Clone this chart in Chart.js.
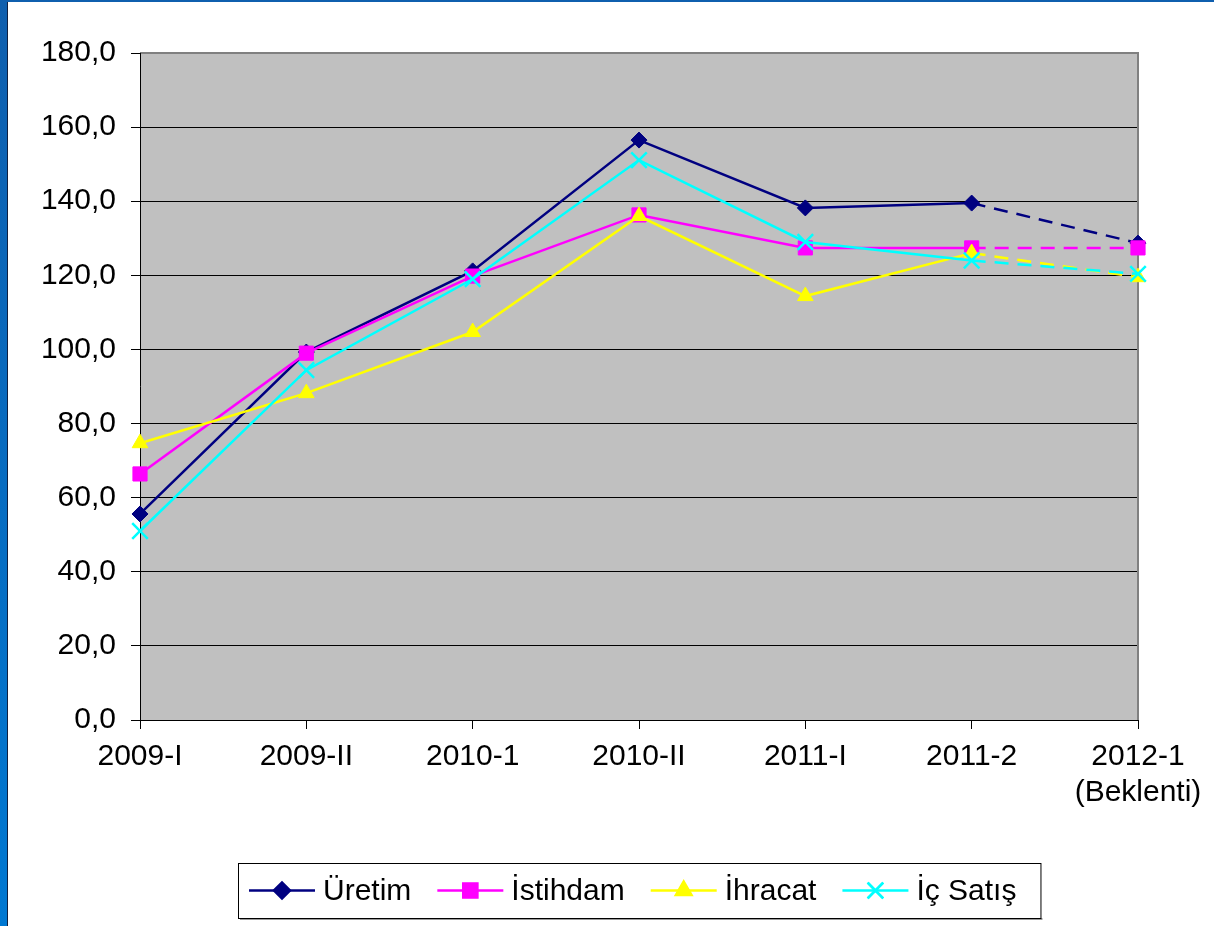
<!DOCTYPE html>
<html>
<head>
<meta charset="utf-8">
<script src="https://cdn.jsdelivr.net/npm/chart.js@4.4.1/dist/chart.umd.min.js"></script>
<style>
  html, body { margin: 0; padding: 0; background: #fff; }
  #wrap { width: 1214px; height: 926px; }
</style>
</head>
<body>
<div id="wrap"><canvas id="chart" width="1214" height="926"></canvas></div>
<script>
// donnees
var categories = ['2009-I', '2009-II', '2010-1', '2010-II', '2011-I', '2011-2', ['2012-1', '(Beklenti)']];
var uretim    = [55.6, 99.3, 121.2, 156.5, 138.2, 139.5, 128.7];
var istihdam  = [66.4, 99.0, 119.8, 136.3, 127.4, 127.4, 127.4];
var ihracat   = [74.7, 88.2, 104.7, 136.0, 114.4, 126.0, 119.5];
var icSatis   = [51.0, 94.4, 119.0, 151.1, 129.0, 124.0, 120.4];
var seriesNames = ['Üretim', 'İstihdam', 'İhracat', 'İç Satış'];
var yTicks = [0, 20, 40, 60, 80, 100, 120, 140, 160, 180];

var FONT = '"Liberation Sans", Arial, sans-serif';

// dernier segment (prevision) en pointille
function dashLast(ctx) {
    return ctx.p1DataIndex === categories.length - 1 ? [14, 9] : undefined;
}

function mkSet(label, data, color, style, radius, order, bw) {
    return {
        label: label,
        data: data,
        borderColor: color,
        backgroundColor: color,
        borderWidth: 2.5,
        pointStyle: style,
        pointRadius: radius,
        pointHoverRadius: radius,
        pointBorderWidth: bw,
        pointBackgroundColor: color,
        pointBorderColor: color,
        tension: 0,
        order: order,
        segment: { borderDash: dashLast }
    };
}

var datasets = [
    mkSet(seriesNames[0], uretim, '#000080', 'rectRot', 8, 3, 1),
    mkSet(seriesNames[1], istihdam, '#FF00FF', 'rect', 10, 2, 1),
    mkSet(seriesNames[2], ihracat, '#FFFF00', 'triangle', 9, 1, 1),
    mkSet(seriesNames[3], icSatis, '#00FFFF', 'crossRot', 11, 0, 2.5)
];

// fond, bord bleu, zone grise
var backdrop = {
    id: 'backdrop',
    beforeDraw: function (chart) {
        var c = chart.ctx, a = chart.chartArea;
        c.save();
        c.fillStyle = '#fff';
        c.fillRect(0, 0, chart.width, chart.height);
        var g = c.createLinearGradient(0, 0, 0, chart.height);
        g.addColorStop(0, '#0F5FAE');
        g.addColorStop(1, '#0078D2');
        c.fillStyle = g;
        c.fillRect(0, 0, 7, chart.height);
        c.fillRect(0, 0, chart.width, 2);
        c.fillStyle = '#102040';
        c.fillRect(7, 2, 1, chart.height);
        c.fillStyle = '#C0C0C0';
        c.fillRect(a.left, a.top, a.right - a.left, a.bottom - a.top);
        c.restore();
    },
    beforeDatasetsDraw: function (chart) {
        var c = chart.ctx, a = chart.chartArea;
        c.save();
        c.strokeStyle = '#808080';
        c.lineWidth = 2;
        c.beginPath();
        c.moveTo(a.left, a.top);
        c.lineTo(a.right, a.top);
        c.lineTo(a.right, a.bottom);
        c.stroke();
        c.strokeStyle = '#000';
        c.lineWidth = 1;
        c.beginPath();
        c.moveTo(a.left + 0.5, a.top);
        c.lineTo(a.left + 0.5, a.bottom);
        c.moveTo(a.left, a.bottom + 0.5);
        c.lineTo(a.right, a.bottom + 0.5);
        c.stroke();
        c.restore();
    }
};

// legende facon Excel: trait + marqueur + texte dans un cadre
var boxLegend = {
    id: 'boxLegend',
    afterDraw: function (chart) {
        var c = chart.ctx, a = chart.chartArea;
        var lineLen = 66, gapText = 8, gapItem = 26, padL = 11, padR = 24;
        c.save();
        c.font = '30px ' + FONT;
        var widths = datasets.map(function (d) { return c.measureText(d.label).width; });
        var total = padL + padR;
        widths.forEach(function (w, i) { total += lineLen + gapText + w + (i < widths.length - 1 ? gapItem : 0); });
        var cx = (a.left + a.right) / 2;
        var x0 = Math.round(cx - total / 2), y0 = 863, h = 55, cy = y0 + h / 2;
        c.fillStyle = '#9a9a9a';
        c.fillRect(x0 + 2, y0 + h, total, 2);
        c.fillStyle = '#fff';
        c.fillRect(x0, y0, total, h);
        c.strokeStyle = '#000';
        c.lineWidth = 1;
        c.strokeRect(x0 + 0.5, y0 + 0.5, total, h);
        var x = x0 + padL;
        datasets.forEach(function (d, i) {
            c.strokeStyle = d.borderColor;
            c.lineWidth = 2.5;
            c.beginPath();
            c.moveTo(x, cy);
            c.lineTo(x + lineLen, cy);
            c.stroke();
            Chart.helpers.drawPoint(c, {
                pointStyle: d.pointStyle,
                radius: d.pointRadius,
                borderWidth: d.pointBorderWidth,
                rotation: 0
            }, x + lineLen / 2, cy);
            c.fillStyle = d.borderColor;
            c.strokeStyle = d.borderColor;
            c.lineWidth = d.pointBorderWidth;
            c.beginPath();
            Chart.helpers.drawPoint(c, { pointStyle: d.pointStyle, radius: d.pointRadius, borderWidth: d.pointBorderWidth, rotation: 0 }, x + lineLen / 2, cy);
            c.fillStyle = '#000';
            c.textBaseline = 'middle';
            c.textAlign = 'left';
            c.fillText(d.label, x + lineLen + gapText, cy + 1);
            x += lineLen + gapText + widths[i] + gapItem;
        });
        c.restore();
    }
};

var ctx = document.getElementById('chart').getContext('2d');
var chart = new Chart(ctx, {
    type: 'line',
    data: { labels: categories, datasets: datasets },
    options: {
        responsive: false,
        animation: false,
        devicePixelRatio: 1,
        layout: { padding: { left: 0, top: 53, right: 76, bottom: 0 } },
        plugins: {
            legend: { display: false },
            tooltip: { enabled: false }
        },
        scales: {
            x: {
                offset: false,
                grid: {
                    drawOnChartArea: false,
                    drawTicks: true,
                    tickLength: 9,
                    tickColor: '#000'
                },
                border: { display: false },
                ticks: {
                    color: '#000',
                    font: { family: FONT, size: 30, lineHeight: 1.2 },
                    padding: 10,
                    maxRotation: 0,
                    autoSkip: false
                },
                afterFit: function (s) { s.height = 206; }
            },
            y: {
                min: 0,
                max: 180,
                afterBuildTicks: function (s) {
                    s.ticks = yTicks.map(function (v) { return { value: v }; });
                },
                grid: {
                    color: function (c) { return c.tick && c.tick.value === 180 ? 'rgba(0,0,0,0)' : '#000'; },
                    tickColor: '#000',
                    tickLength: 9,
                    lineWidth: 1
                },
                border: { display: false },
                ticks: {
                    color: '#000',
                    font: { family: FONT, size: 30 },
                    padding: 15,
                    callback: function (v) { return v.toFixed(1).replace('.', ','); }
                },
                afterFit: function (s) { s.width = 140; }
            }
        }
    },
    plugins: [backdrop, boxLegend]
});
</script>
</body>
</html>
